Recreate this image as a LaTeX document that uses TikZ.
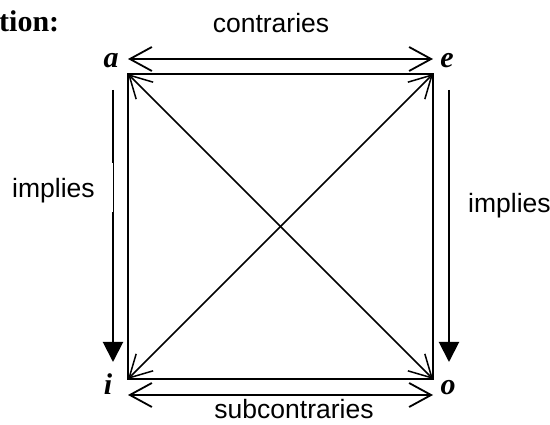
\documentclass[tikz,border=0pt]{standalone}
\usepackage{fontspec}
\setmainfont{Liberation Serif}
\newfontfamily\arialfont{Liberation Sans}
\usetikzlibrary{arrows.meta}
\tikzset{
  lbl/.style={font=\arialfont\fontsize{26.5}{30}\selectfont, inner sep=0pt},
  vtx/.style={font=\fontsize{30}{34}\selectfont\bfseries\itshape, inner sep=0pt},
  ttl/.style={font=\fontsize{30}{34}\selectfont\bfseries, inner sep=0pt},
  barb/.style={line width=1.8pt, {Straight Barb[length=22pt,width=24pt,line width=1.8pt]}-{Straight Barb[length=22pt,width=24pt,line width=1.8pt]}},
  diag/.style={line width=1.5pt, {Straight Barb[length=22pt,width=24pt,line width=1.5pt]}-{Straight Barb[length=22pt,width=24pt,line width=1.5pt]}},
  impl/.style={line width=2pt, -{Triangle[length=20pt,width=20pt]}},
  edge/.style={line width=2pt}
}
\begin{document}
\begin{tikzpicture}[x=1pt,y=-1pt]
\useasboundingbox (0,0) rectangle (550,425);
% corners of the square
\coordinate (A) at (128,74);
\coordinate (E) at (433,74);
\coordinate (I) at (128,379);
\coordinate (O) at (433,379);
% ends of the outer arrows
\coordinate (ca) at (128,59);
\coordinate (ce) at (433,59);
\coordinate (si) at (128,395);
\coordinate (so) at (433,395);
\coordinate (la) at (113,90);
\coordinate (li) at (113,362);
\coordinate (re) at (449,90);
\coordinate (ro) at (449,362);
% title fragment
\node[ttl, anchor=base west] (title) at (-1,32) {tion:};
% vertex letters
\node[vtx, anchor=base] (a) at (111,68) {a};
\node[vtx, anchor=base] (e) at (447,68) {e};
\node[vtx, anchor=base] (i) at (108,395) {i};
\node[vtx, anchor=base] (o) at (448,395) {o};
% square
\draw[edge] (A) -- (E) -- (O) -- (I) -- cycle;
% diagonals
\draw[diag] (A) -- (O);
\draw[diag] (E) -- (I);
% contraries / subcontraries
\draw[barb] (ca) -- (ce);
\draw[barb] (si) -- (so);
% implies
\draw[impl] (la) -- (li);
\draw[impl] (re) -- (ro);
\fill[white] (92,163) rectangle (113,212);
% labels
\node[lbl, anchor=base] (contr) at (271,33) {contraries};
\node[lbl, anchor=base] (subc) at (294,418) {subcontraries};
\node[lbl, anchor=base west] (limp) at (12,198) {implies};
\node[lbl, anchor=base west] (rimp) at (468,213) {implies};
\end{tikzpicture}
\end{document}
